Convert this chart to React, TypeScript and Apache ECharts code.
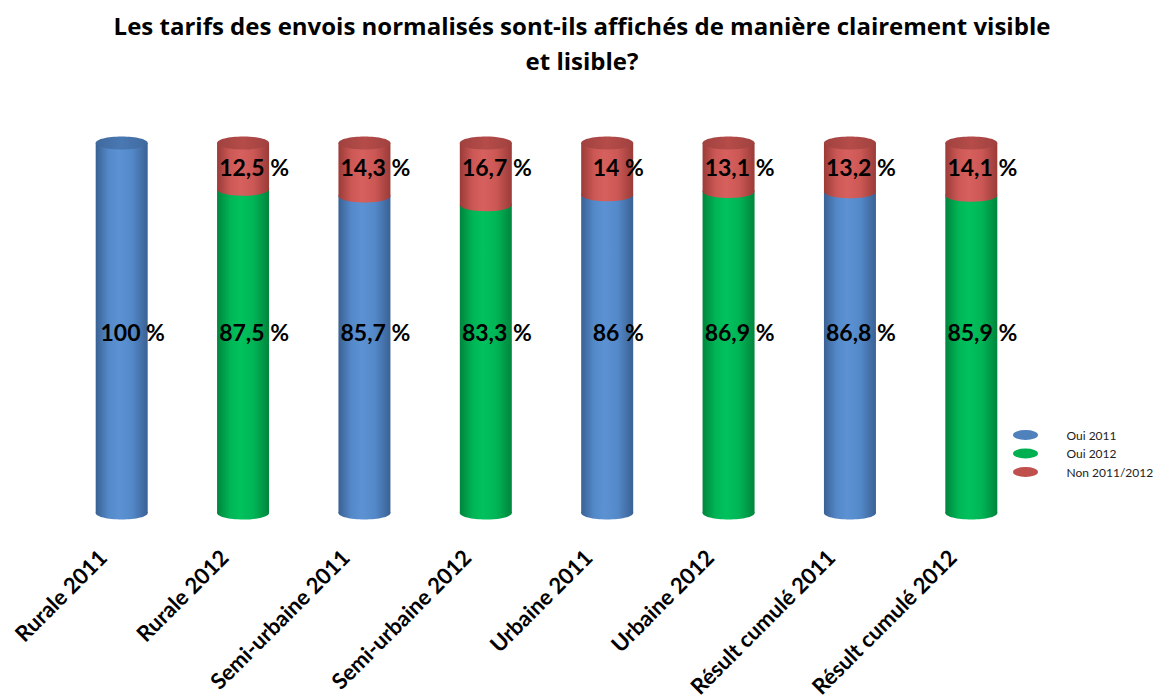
import React, { useEffect, useRef } from "react";
import * as echarts from "echarts";

const TITLE_LINES = [
  "Les tarifs des envois normalisés sont-ils affichés de manière clairement visible",
  "et lisible?",
];
const categories = [
  "Rurale 2011",
  "Rurale 2012",
  "Semi-urbaine 2011",
  "Semi-urbaine 2012",
  "Urbaine 2011",
  "Urbaine 2012",
  "Résult cumulé 2011",
  "Résult cumulé 2012",
];
const oui2011: (number | null)[] = [100, null, 85.7, null, 86, null, 86.8, null];
const oui2012: (number | null)[] = [null, 87.5, null, 83.3, null, 86.9, null, 85.9];
const non20112012: number[] = [0, 12.5, 14.3, 16.7, 14, 13.1, 13.2, 14.1];
const seriesNames = ["Oui 2011", "Oui 2012", "Non 2011/2012"];

const FONT = "Lato";
const TITLE_FONT = "'Open Sans'";

const palettes: Record<string, { edge: string; mid: string; light: string; top: string; topEdge: string; base: string }> = {
  "Oui 2011": { edge: "#3A6194", mid: "#5489C9", light: "#5C92D3", top: "#4A78B2", topEdge: "#3F6A9F", base: "#4F81BD" },
  "Oui 2012": { edge: "#00853D", mid: "#00B556", light: "#00C25D", top: "#00A64D", topEdge: "#008E42", base: "#00B050" },
  "Non 2011/2012": { edge: "#9A3B38", mid: "#CC5855", light: "#D6605D", top: "#B54C49", topEdge: "#A04240", base: "#C0504D" },
};

function bodyGradient(p: { edge: string; mid: string; light: string }) {
  return new echarts.graphic.LinearGradient(0, 0, 1, 0, [
    { offset: 0, color: p.edge },
    { offset: 0.25, color: p.mid },
    { offset: 0.45, color: p.light },
    { offset: 0.7, color: p.mid },
    { offset: 1, color: p.edge },
  ]);
}
function topGradient(p: { top: string; topEdge: string }) {
  return new echarts.graphic.LinearGradient(0, 0, 1, 0, [
    { offset: 0, color: p.topEdge },
    { offset: 0.5, color: p.top },
    { offset: 1, color: p.topEdge },
  ]);
}

function fmt(v: number) {
  return String(v).replace(".", ",") + " %";
}

// rows: [categoryIndex, start, end, value, isTop]
function buildOui(values: (number | null)[]) {
  const rows: number[][] = [];
  values.forEach((v, i) => {
    if (v !== null) rows.push([i, 0, v, v, non20112012[i] > 0 ? 0 : 1]);
  });
  return rows;
}
function buildNon() {
  const rows: number[][] = [];
  non20112012.forEach((v, i) => {
    if (v > 0) {
      const base = (oui2011[i] ?? oui2012[i] ?? 0) as number;
      rows.push([i, base, base + v, v, 1]);
    }
  });
  return rows;
}

const BAR_W = 52;
const RY = 6.5;
const LABEL_POS_OUI = 48.8;
const LABEL_POS_NON = 93.5;

function makeRender(name: string, labelPos: number) {
  const p = palettes[name];
  return (params: any, api: any) => {
    const idx = api.value(0);
    const start = api.value(1);
    const end = api.value(2);
    const value = api.value(3);
    const isTop = api.value(4) === 1;
    const ps = api.coord([idx, start]);
    const pe = api.coord([idx, end]);
    const cx = ps[0];
    const rx = BAR_W / 2;
    const children: any[] = [
      {
        type: "ellipse",
        shape: { cx, cy: ps[1], rx, ry: RY },
        style: { fill: bodyGradient(p) },
      },
      {
        type: "rect",
        shape: { x: cx - rx, y: pe[1], width: BAR_W, height: ps[1] - pe[1] },
        style: { fill: bodyGradient(p) },
      },
    ];
    if (isTop) {
      children.push({
        type: "ellipse",
        shape: { cx, cy: pe[1], rx, ry: RY },
        style: { fill: topGradient(p) },
      });
    }
    const lp = api.coord([idx, labelPos]);
    children.push({
      type: "text",
      x: cx + 11,
      y: lp[1],
      z2: 10,
      style: {
        text: fmt(value),
        fill: "#000",
        font: `bold 23px ${FONT}`,
        textAlign: "center",
        textVerticalAlign: "middle",
      },
    });
    return { type: "group", children };
  };
}

export default function App() {
  const ref = useRef<HTMLDivElement>(null);
  useEffect(() => {
    if (!ref.current) return;
    const chart = echarts.init(ref.current, undefined, { renderer: "svg" });
    const ellipseIcon = "path://M0,20 A50,20 0 1,1 100,20 A50,20 0 1,1 0,20 Z";
    const titleStyle = {
      fontFamily: TITLE_FONT,
      fontWeight: "bold",
      fontSize: 24,
      color: "#000",
    };
    chart.setOption({
      animation: false,
      backgroundColor: "#ffffff",
      title: [
        { text: TITLE_LINES[0], left: "center", top: 13, padding: 0, textStyle: titleStyle },
        { text: TITLE_LINES[1], left: "center", top: 48, padding: 0, textStyle: titleStyle },
      ],
      legend: {
        orient: "vertical",
        left: 1013,
        top: 428,
        padding: 0,
        itemWidth: 26,
        itemHeight: 10,
        itemGap: 4.5,
        icon: ellipseIcon,
        data: seriesNames,
        textStyle: {
          fontFamily: FONT,
          fontSize: 12,
          lineHeight: 14,
          color: "#222",
          padding: [0, 0, 0, 23],
        },
      },
      grid: { left: 61, right: 132, top: 143, bottom: 180 },
      xAxis: {
        type: "category",
        data: categories,
        axisLine: { show: false },
        axisTick: { show: false },
        axisLabel: {
          interval: 0,
          rotate: 45,
          margin: 21,
          fontFamily: FONT,
          fontWeight: "bold",
          fontSize: 22,
          color: "#000",
          padding: [0, 27, 0, 0],
        },
      },
      yAxis: {
        type: "value",
        min: 0,
        max: 100,
        show: false,
        splitLine: { show: false },
      },
      series: [
        {
          name: "Oui 2011",
          type: "custom",
          renderItem: makeRender("Oui 2011", LABEL_POS_OUI),
          itemStyle: { color: palettes["Oui 2011"].base },
          encode: { x: 0, y: [1, 2] },
          data: buildOui(oui2011),
        },
        {
          name: "Oui 2012",
          type: "custom",
          renderItem: makeRender("Oui 2012", LABEL_POS_OUI),
          itemStyle: { color: palettes["Oui 2012"].base },
          encode: { x: 0, y: [1, 2] },
          data: buildOui(oui2012),
        },
        {
          name: "Non 2011/2012",
          type: "custom",
          renderItem: makeRender("Non 2011/2012", LABEL_POS_NON),
          itemStyle: { color: palettes["Non 2011/2012"].base },
          encode: { x: 0, y: [1, 2] },
          data: buildNon(),
        },
      ],
    });
    return () => chart.dispose();
  }, []);
  return (
    <div
      ref={ref}
      style={{ position: "fixed", left: 0, top: 0, width: 1164, height: 700, background: "#fff" }}
    />
  );
}
